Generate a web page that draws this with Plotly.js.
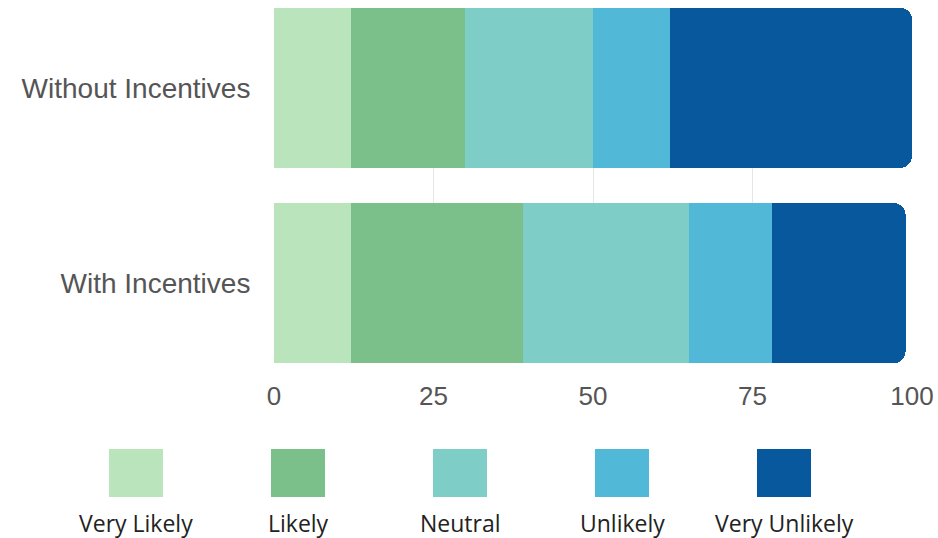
<!DOCTYPE html>
<html>
<head>
<meta charset="utf-8">
<script src="https://cdn.plot.ly/plotly-3.0.1.min.js"></script>
<style>html,body{margin:0;padding:0;background:#fff;}#chart{width:938px;height:538px;}</style>
</head>
<body>
<div id="chart"></div>
<script>
// Data
const categories = ['With Incentives', 'Without Incentives'];
const seriesNames = ['Very Likely', 'Likely', 'Neutral', 'Unlikely', 'Very Unlikely'];
const veryLikely   = [12, 12];
const likely       = [27, 18];
const neutral      = [26, 20];
const unlikely     = [13, 12];
const veryUnlikely = [21, 38];
const xTicks = [0, 25, 50, 75, 100];

const seriesValues = [veryLikely, likely, neutral, unlikely, veryUnlikely];
const colors = ['#bae4bc', '#7bc08a', '#7ecdc6', '#52b8d7', '#08589e'];

const traces = seriesNames.map((name, i) => ({
  type: 'bar',
  orientation: 'h',
  name: name,
  y: categories,
  x: seriesValues[i],
  marker: { color: colors[i], line: { width: 0 } },
  showlegend: false,
  hoverinfo: 'x+name'
}));

// Layout geometry (pixels)
const W = 938, H = 538;
const mL = 274, mR = 26, mT = 8, mB = 175;
const pw = W - mL - mR, ph = H - mT - mB;
const px = x => (x - mL) / pw;
const py = y => (H - mB - y) / ph;

const shapes = [], annotations = [];
const swW = 54, swH = 48, swTop = 449, firstC = 136, step = 162, textY = 523;
seriesNames.forEach((name, i) => {
  const c = firstC + i * step;
  shapes.push({
    type: 'rect', xref: 'paper', yref: 'paper',
    x0: px(c - swW / 2), x1: px(c + swW / 2),
    y0: py(swTop), y1: py(swTop + swH),
    fillcolor: colors[i], line: { width: 0 }
  });
  annotations.push({
    xref: 'paper', yref: 'paper', x: px(c), y: py(textY),
    text: name, showarrow: false, xanchor: 'center', yanchor: 'middle',
    font: { family: 'Open Sans', size: 23, color: '#222' }
  });
});

const layout = {
  width: W, height: H,
  margin: { l: mL, r: mR, t: mT, b: mB, pad: 0 },
  barmode: 'stack',
  bargap: 0.18,
  barcornerradius: 12,
  paper_bgcolor: '#fff',
  plot_bgcolor: '#fff',
  showlegend: false,
  xaxis: {
    range: [0, 100],
    tickvals: xTicks,
    ticktext: xTicks.map(String),
    showgrid: true, gridcolor: '#e6e6e6', gridwidth: 1,
    zeroline: false, showline: false,
    ticks: 'outside', ticklen: 10, tickcolor: 'rgba(0,0,0,0)',
    tickfont: { family: 'Liberation Sans, Arial, sans-serif', size: 26, color: '#555' },
    automargin: false
  },
  yaxis: {
    type: 'category',
    range: [-0.408, 1.408],
    showgrid: false, zeroline: false, showline: false,
    ticks: 'outside', ticklen: 17, tickcolor: 'rgba(0,0,0,0)',
    tickfont: { family: 'Liberation Sans, Arial, sans-serif', size: 28, color: '#555' },
    automargin: false
  },
  shapes: shapes,
  annotations: annotations
};

Plotly.newPlot('chart', traces, layout, { displayModeBar: false, staticPlot: true });
</script>
</body>
</html>
